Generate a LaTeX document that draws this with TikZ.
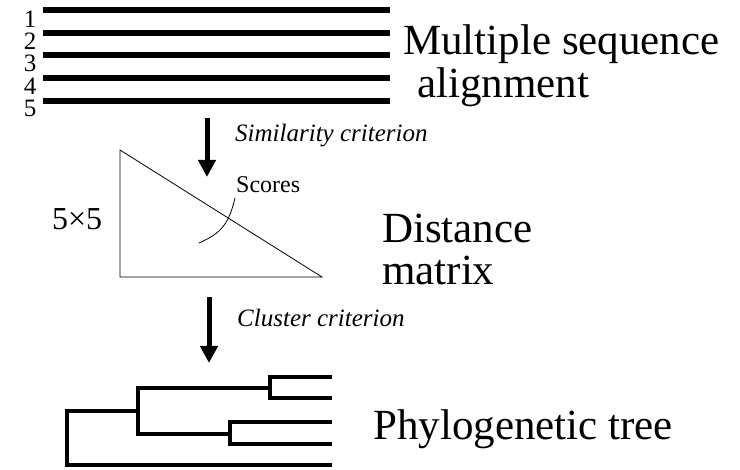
\documentclass[tikz,border=0pt]{standalone}
\usepackage{fontspec}
\setmainfont{Liberation Serif}
\usetikzlibrary{arrows.meta}

\tikzset{
  big/.style={inner sep=0pt, anchor=base west, font=\fontsize{43}{43}\selectfont},
  mid/.style={inner sep=0pt, anchor=base west, font=\fontsize{32}{32}\selectfont},
  small/.style={inner sep=0pt, anchor=base west, font=\fontsize{24}{24}\selectfont},
  crit/.style={inner sep=0pt, anchor=base west, font=\fontsize{25}{25}\selectfont\itshape},
  seqnum/.style={inner sep=0pt, anchor=base, font=\fontsize{25}{25}\selectfont},
  seqline/.style={line width=5.5pt},
  flow/.style={line width=5pt, -{Triangle[length=17pt,width=17pt]}},
  thin/.style={line width=0.8pt},
  branch/.style={line width=4pt, line join=miter, line cap=rect},
}

\begin{document}
\begin{tikzpicture}[x=1pt, y=-1pt]
  \useasboundingbox (0,0) rectangle (740,470);

  % aligned sequences
  \foreach \i/\y in {1/10, 2/33, 3/55, 4/78, 5/101} {
    \coordinate (s\i l) at (43,\y);
    \coordinate (s\i r) at (390,\y);
    \draw[seqline] (s\i l) -- (s\i r);
  }
  \foreach \i/\y in {1/28, 2/50, 3/72, 4/95, 5/117} {
    \node[seqnum] (n\i) at (30,\y) {\i};
  }
  \node[big] (msa1) at (403,55) {Multiple sequence};
  \node[big] (msa2) at (417,98) {alignment};

  % first step
  \coordinate (a1s) at (207,118);
  \coordinate (a1e) at (207,177);
  \draw[flow] (a1s) -- (a1e);
  \node[crit] (sim) at (235,142) {Similarity criterion};

  % distance matrix
  \coordinate (tA) at (120,150);
  \coordinate (tB) at (120,277);
  \coordinate (tC) at (322,277);
  \draw[thin] (tA) -- (tB) -- (tC) -- cycle;
  \node[mid] (dim) at (52,230) {5×5};
  \node[small] (scores) at (236,193) {Scores};
  \coordinate (sc0) at (199,243);
  \coordinate (sc1) at (235,198);
  \draw[thin] (sc0) .. controls (222,233) and (229,223) .. (sc1);
  \node[big] (dm1) at (382,243) {Distance};
  \node[big] (dm2) at (382,285) {matrix};

  % second step
  \coordinate (a2s) at (209,297);
  \coordinate (a2e) at (209,363);
  \draw[flow] (a2s) -- (a2e);
  \node[crit] (clu) at (237,327) {Cluster criterion};

  % tree
  \coordinate (root) at (67,411);
  \coordinate (inner) at (138,411);
  \coordinate (up) at (270,388);
  \coordinate (lo) at (230,434);
  \draw[branch] (330,465) -- (67,465) -- (67,411) -- (138,411);
  \draw[branch] (270,388) -- (138,388) -- (138,434) -- (230,434);
  \draw[branch] (330,377) -- (270,377) -- (270,398) -- (330,398);
  \draw[branch] (330,422) -- (230,422) -- (230,444) -- (330,444);
  \node[big] (tree) at (373,440) {Phylogenetic tree};
\end{tikzpicture}
\end{document}
